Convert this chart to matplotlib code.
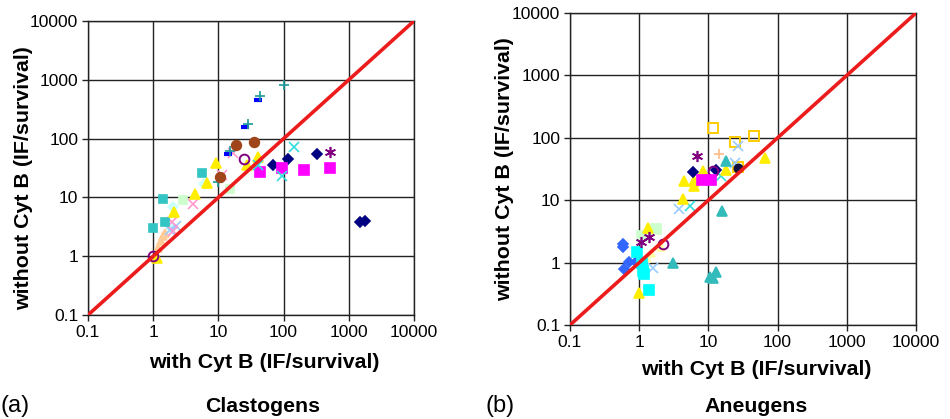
import matplotlib
matplotlib.use('Agg')
import matplotlib.pyplot as plt
import matplotlib.ticker as mtick

plt.rcParams['font.family'] = ['Liberation Sans', 'DejaVu Sans']

# axis range / identity line
lims = [0.1, 10000]
decades = [0.1, 1, 10, 100, 1000, 10000]

# ---- (a) Clastogens : with Cyt B (x) vs without Cyt B (y)
a_dash_x = [14, 26, 40]
a_dash_y = [55, 160, 450]
a_plus_x = [10, 15, 28, 44, 100]
a_plus_y = [18, 62, 180, 520, 800]
a_brown_x = [10.5, 18.6, 35]
a_brown_y = [22, 79, 87]
a_ring_x = [1.0, 24.5]
a_ring_y = [1.0, 45]
a_navy_x = [69, 117, 330, 1500, 1800]
a_navy_y = [36, 45, 54, 3.8, 3.9]
a_mag_x = [44, 93, 204, 510]
a_mag_y = [27, 31.6, 29, 31.6]
a_star_x = [510]
a_star_y = [60]
a_cyanx_x = [93, 145, 40]
a_cyanx_y = [23, 71, 36]
a_tealsq_x = [1.0, 1.4, 1.5, 5.6]
a_tealsq_y = [3.0, 9.3, 3.8, 25.7]
a_yel_x = [1.15, 2.1, 4.4, 6.6, 9.1, 27, 40]
a_yel_y = [0.93, 5.6, 11.3, 17.5, 38, 36, 48]
a_rose_x = [2.0, 1.95, 4.1, 11.5, 17]
a_rose_y = [2.7, 3.8, 7.6, 23.6, 58]
a_tan_x = [1.2, 1.3, 1.4, 1.5]
a_tan_y = [1.4, 1.8, 2.2, 2.5]
a_lgreen_x = [2.9, 15]
a_lgreen_y = [8.9, 14]
a_lcyan_x = [2.0, 6.0, 1.9]
a_lcyan_y = [7.0, 17, 3.0]
a_lblue_x = [2.2, 1.8]
a_lblue_y = [3.2, 2.8]

# ---- (b) Aneugens
b_gold_x = [11.8, 24, 45, 27]
b_gold_y = [142, 85, 107, 34]
b_lblue_x = [27, 24, 3.7, 1.6]
b_lblue_y = [75, 39, 7.2, 0.81]
b_cyanx_x = [5.5, 15]
b_cyanx_y = [8.1, 24]
b_tan_x = [14]
b_tan_y = [56]
b_star_x = [6.9, 1.05, 1.38]
b_star_y = [51, 2.1, 2.6]
b_navy_x = [6.0, 12.9]
b_navy_y = [28, 31]
b_ring_x = [11.5, 2.2]
b_ring_y = [29, 2.0]
b_mag_x = [8, 11]
b_mag_y = [21, 21]
b_yel_x = [4.5, 6.2, 6.2, 8.3, 18, 66, 4.3, 1.35, 1.0]
b_yel_y = [20.6, 20, 16.6, 29, 30, 47, 10.5, 3.6, 0.33]
b_tealtri_x = [18, 15.5, 3.1, 10.5, 13, 11.8]
b_tealtri_y = [43, 6.8, 0.98, 0.59, 0.72, 0.57]
b_blue_x = [0.59, 0.59, 0.72, 0.6, 0.9]
b_blue_y = [2.0, 1.75, 1.04, 0.78, 1.03]
b_cyansq_x = [0.94, 1.14, 1.17, 1.38, 1.1]
b_cyansq_y = [1.5, 0.73, 0.65, 0.36, 1.0]
b_lgreen_x = [1.09, 1.74]
b_lgreen_y = [2.7, 3.4]
b_dark_x = [27]
b_dark_y = [33]
b_pale_x = [1.3, 1.5, 2.1]
b_pale_y = [1.2, 1.4, 1.8]


def style_axes(ax, xl_pos, yl_pos):
    ax.set_xscale('log')
    ax.set_yscale('log')
    ax.set_xlim(lims)
    ax.set_ylim(lims)
    ax.set_xticks(decades)
    ax.set_yticks(decades)
    ax.minorticks_off()
    fmt = mtick.FuncFormatter(lambda v, p: '%g' % v)
    ax.xaxis.set_major_formatter(fmt)
    ax.yaxis.set_major_formatter(fmt)
    ax.tick_params(length=4, width=1, color='#222222', labelsize=12.5, pad=3)
    ax.grid(True, color='#222222', lw=1)
    for s in ax.spines.values():
        s.set_color('#222222')
        s.set_linewidth(1)
    ax.plot(lims, lims, color='#ec1c1c', lw=2.6, zorder=4)
    ax.set_xlabel('with Cyt B (IF/survival)', fontsize=15.4, fontweight='bold', va='center')
    ax.set_ylabel('without Cyt B (IF/survival)', fontsize=15.4, fontweight='bold', va='center')
    ax.xaxis.set_label_coords(*xl_pos)
    ax.yaxis.set_label_coords(*yl_pos)


def pts(ax, x, y, marker, color, ms=6, hollow=False, mew=1.2):
    if hollow:
        ax.plot(x, y, ls='none', marker=marker, ms=ms, mfc='none', mec=color, mew=mew, zorder=3)
    else:
        ax.plot(x, y, ls='none', marker=marker, ms=ms, color=color, mec=color, mew=mew, zorder=3)


fig = plt.figure(figsize=(9.5, 4.19), dpi=100)
ax1 = fig.add_axes([88 / 950, 1 - 315 / 419, 326 / 950, 294 / 419])
ax2 = fig.add_axes([570 / 950, 1 - 325 / 419, 346 / 950, 312 / 419])

style_axes(ax1, (0.54, -0.16), (-0.199, 0.466))
pts(ax1, a_tan_x, a_tan_y, '^', '#ffcc99', 6)
pts(ax1, a_lgreen_x, a_lgreen_y, 's', '#ccffcc', 6)
pts(ax1, a_lcyan_x, a_lcyan_y, 'D', '#ccffff', 5)
pts(ax1, a_lblue_x, a_lblue_y, 'x', '#99ccff', 7)
pts(ax1, a_rose_x, a_rose_y, 'x', '#ff99cc', 7)
pts(ax1, a_tealsq_x, a_tealsq_y, 's', '#33c4c4', 6)
pts(ax1, a_yel_x, a_yel_y, '^', '#ffee00', 7)
pts(ax1, a_dash_x, a_dash_y, '_', '#0000ff', 6, mew=3)
pts(ax1, a_plus_x, a_plus_y, '+', '#1a9a9a', 7)
pts(ax1, a_brown_x, a_brown_y, 'o', '#a0441a', 7)
pts(ax1, a_ring_x, a_ring_y, 'o', '#800080', 7, hollow=True, mew=1.4)
pts(ax1, a_navy_x, a_navy_y, 'D', '#000080', 5)
pts(ax1, a_mag_x, a_mag_y, 's', '#ff00ff', 6.5)
pts(ax1, a_star_x, a_star_y, (6, 2, 0), '#800080', 8)
pts(ax1, a_cyanx_x, a_cyanx_y, 'x', '#33dddd', 7)

style_axes(ax2, (0.538, -0.144), (-0.188, 0.50))
pts(ax2, b_pale_x, b_pale_y, '^', '#ffffaa', 6)
pts(ax2, b_lgreen_x, b_lgreen_y, 's', '#ccffcc', 6.5)
pts(ax2, b_gold_x, b_gold_y, 's', '#ffcc00', 7.5, hollow=True, mew=1.4)
pts(ax2, b_lblue_x, b_lblue_y, 'x', '#99ccff', 7)
pts(ax2, b_cyanx_x, b_cyanx_y, 'x', '#33dddd', 7)
pts(ax2, b_tan_x, b_tan_y, '+', '#ffbb88', 7)
pts(ax2, b_yel_x, b_yel_y, '^', '#ffee00', 7)
pts(ax2, b_tealtri_x, b_tealtri_y, '^', '#33bbbb', 7)
pts(ax2, b_blue_x, b_blue_y, 'D', '#3366ff', 5)
pts(ax2, b_cyansq_x, b_cyansq_y, 's', '#00ffff', 6.5)
pts(ax2, b_star_x, b_star_y, (6, 2, 0), '#800080', 8)
pts(ax2, b_navy_x, b_navy_y, 'D', '#000080', 5)
pts(ax2, b_ring_x, b_ring_y, 'o', '#800080', 7, hollow=True, mew=1.4)
pts(ax2, b_mag_x, b_mag_y, 's', '#ff00ff', 7)
pts(ax2, b_dark_x, b_dark_y, 'o', '#101040', 6)

fig.text(1 / 950, 1 - 406 / 419, '(a)', fontsize=17, va='center', ha='left')
fig.text(263 / 950, 1 - 406 / 419, 'Clastogens', fontsize=15.3, fontweight='bold', va='center', ha='center')
fig.text(485 / 950, 1 - 406 / 419, '(b)', fontsize=17, va='center', ha='left')
fig.text(756 / 950, 1 - 406 / 419, 'Aneugens', fontsize=15.3, fontweight='bold', va='center', ha='center')

plt.savefig('out.png', dpi=100)
